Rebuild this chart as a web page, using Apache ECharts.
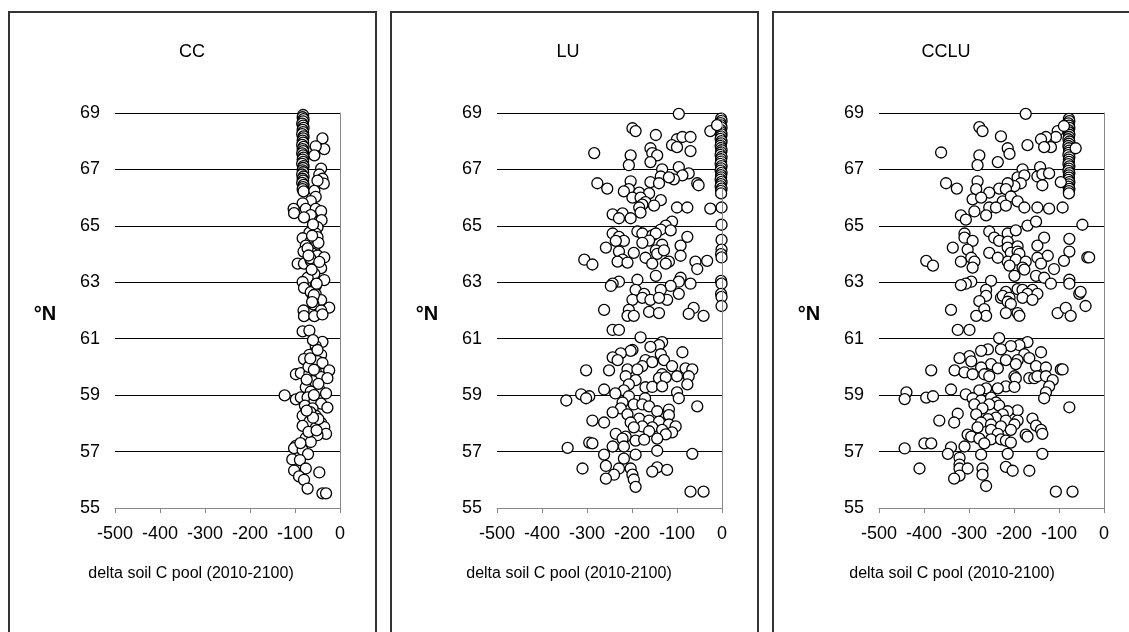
<!DOCTYPE html>
<html>
<head>
<meta charset="utf-8">
<script src="https://cdn.jsdelivr.net/npm/echarts@6/dist/echarts.min.js"></script>
<style>
  html, body { margin: 0; padding: 0; background: #fff; }
  #chart { width: 1129px; height: 632px; }
</style>
</head>
<body>
<div id="chart"></div>
<script>
// Panel titles and axis texts
const panelTitles = ['CC', 'LU', 'CCLU'];
const xAxisTitle = 'delta soil C pool (2010-2100)';
const yAxisTitle = '°N';
const xTicks = [-500, -400, -300, -200, -100, 0];
const yTicks = [55, 57, 59, 61, 63, 65, 67, 69];

// [delta soil C pool, latitude] — climate change only
const ccPoints = [
  [-82, 68.93], [-83, 68.85], [-81, 68.78], [-82, 68.70], [-84, 68.62], [-82, 68.55], [-81, 68.47],
  [-83, 68.40], [-82, 68.32], [-84, 68.25], [-81, 68.17], [-82, 68.10], [-83, 68.02], [-82, 67.95],
  [-84, 67.87], [-81, 67.80], [-83, 67.72], [-82, 67.65], [-84, 67.57], [-82, 67.50], [-81, 67.42],
  [-83, 67.35], [-82, 67.27], [-84, 67.20], [-81, 67.12], [-82, 67.05], [-83, 66.97], [-82, 66.90],
  [-84, 66.82], [-81, 66.75], [-83, 66.67], [-82, 66.60], [-84, 66.52], [-81, 66.45], [-82, 66.37],
  [-83, 66.30], [-81, 66.22],
  [-39, 68.10], [-35, 67.72], [-54, 67.82], [-57, 67.50], [-42, 67.03], [-46, 66.82], [-39, 66.67],
  [-36, 66.50], [-50, 66.60], [-57, 66.24], [-54, 66.03], [-65, 65.88], [-83, 65.80], [-103, 65.60],
  [-102, 65.45], [-76, 65.60], [-54, 65.60], [-42, 65.52], [-65, 65.38], [-80, 65.30], [-46, 65.17],
  [-41, 65.20], [-50, 64.95], [-54, 64.73], [-68, 64.76], [-83, 64.56], [-65, 64.45], [-50, 64.60],
  [-76, 64.30], [-57, 64.23], [-81, 64.09], [-61, 64.02], [-50, 63.95], [-35, 63.88], [-94, 63.66],
  [-80, 63.66], [-65, 63.76], [-54, 63.59], [-42, 63.50], [-57, 63.30], [-72, 63.16], [-83, 63.01],
  [-80, 62.80], [-54, 62.87], [-35, 63.08], [-65, 62.65], [-54, 62.58], [-57, 62.37], [-42, 62.37],
  [-59, 62.22], [-24, 62.10], [-42, 62.00], [-81, 62.00], [-80, 61.80], [-57, 61.80], [-39, 61.86],
  [-83, 61.26], [-68, 61.29], [-39, 60.89], [-54, 60.74], [-57, 60.50], [-68, 60.43], [-42, 60.43],
  [-80, 60.28], [-65, 60.14], [-50, 60.21], [-39, 60.14], [-24, 59.88], [-98, 59.74], [-87, 59.78],
  [-68, 59.78], [-54, 59.85], [-42, 59.64], [-28, 59.60], [-61, 59.50], [-76, 59.28], [-46, 59.20],
  [-65, 59.13], [-123, 58.99], [-98, 58.85], [-87, 58.92], [-72, 58.92], [-31, 59.06], [-57, 58.78],
  [-42, 58.70], [-28, 58.56], [-78, 58.63], [-61, 58.53], [-83, 58.27], [-54, 58.27], [-68, 58.06],
  [-42, 58.02], [-83, 57.91], [-54, 57.84], [-35, 57.87], [-31, 57.63], [-50, 57.58], [-76, 57.48],
  [-65, 57.34], [-98, 57.20], [-102, 57.12], [-83, 57.05], [-71, 56.91], [-106, 56.72], [-89, 56.70],
  [-102, 56.33], [-76, 56.40], [-46, 56.26], [-91, 56.12], [-80, 56.00], [-72, 55.69], [-39, 55.52],
  [-31, 55.52],
  [-60, 62.45], [-58, 62.55], [-62, 62.30], [-66, 63.85], [-72, 64.20], [-48, 64.40], [-60, 65.05],
  [-70, 60.00], [-58, 59.90], [-66, 58.40], [-48, 58.15], [-70, 57.70], [-58, 59.00], [-50, 60.60],
  [-62, 64.65], [-70, 63.95], [-46, 63.72], [-63, 63.45], [-52, 62.95], [-66, 60.30], [-48, 59.40],
  [-74, 59.55], [-60, 58.20], [-74, 58.45], [-52, 57.75], [-88, 57.30], [-60, 60.95]
];

// [delta soil C pool, latitude] — land use only
const luPoints = [
  [-2, 68.80], [-1, 68.72], [-3, 68.64], [-2, 68.56], [-1, 68.48], [-3, 68.40], [-2, 68.32],
  [-1, 68.24], [-2, 68.16], [-3, 68.08], [-1, 68.00], [-2, 67.92], [-3, 67.84], [-2, 67.76],
  [-1, 67.68], [-2, 67.60], [-3, 67.52], [-1, 67.44], [-2, 67.36], [-2, 67.28], [-3, 67.20],
  [-1, 67.12], [-2, 67.04], [-3, 66.96], [-1, 66.88], [-2, 66.80], [-2, 66.72], [-3, 66.64],
  [-1, 66.56], [-2, 66.48], [-3, 66.40], [-1, 66.32], [-2, 66.24], [-2, 66.15],
  [-1, 65.65], [-1, 65.04], [-1, 64.50], [-1, 64.16], [-2, 64.00], [-1, 63.88], [-2, 63.05],
  [-1, 62.95], [-2, 62.59], [-1, 62.48], [-1, 62.16],
  [-96, 68.97], [-199, 68.46], [-192, 68.36], [-147, 68.22], [-26, 68.36], [-11, 68.57],
  [-100, 68.07], [-88, 68.15], [-70, 68.15], [-111, 67.86], [-100, 67.79], [-70, 67.65],
  [-159, 67.75], [-155, 67.58], [-144, 67.50], [-284, 67.58], [-203, 67.50], [-207, 67.15],
  [-159, 67.26], [-96, 67.08], [-133, 67.00], [-74, 66.86], [-88, 66.79], [-136, 66.75],
  [-107, 66.65], [-118, 66.72], [-277, 66.51], [-255, 66.32], [-203, 66.58], [-159, 66.55],
  [-140, 66.51], [-55, 66.51], [-52, 66.44], [-207, 66.30], [-218, 66.22], [-184, 66.18],
  [-162, 66.15], [-199, 66.00], [-181, 66.00], [-136, 65.91], [-170, 65.84], [-177, 65.75],
  [-184, 65.65], [-151, 65.72], [-100, 65.65], [-77, 65.65], [-26, 65.61], [-181, 65.47],
  [-243, 65.41], [-221, 65.44], [-229, 65.27], [-203, 65.27], [-111, 65.15], [-125, 65.01],
  [-136, 64.87], [-114, 64.84], [-188, 64.80], [-177, 64.73], [-155, 64.66], [-147, 64.73],
  [-243, 64.73], [-229, 64.61], [-77, 64.61], [-218, 64.47], [-236, 64.47], [-162, 64.48],
  [-177, 64.40], [-133, 64.33], [-92, 64.30], [-258, 64.23], [-229, 64.09], [-196, 64.04],
  [-147, 64.13], [-144, 64.01], [-129, 64.13], [-92, 63.94], [-170, 63.87], [-221, 63.80],
  [-232, 63.73], [-210, 63.70], [-118, 63.73], [-125, 63.66], [-155, 63.66], [-306, 63.80],
  [-288, 63.63], [-59, 63.73], [-33, 63.76], [-55, 63.47], [-147, 63.23], [-188, 63.09],
  [-92, 63.16], [-96, 63.02], [-229, 63.02], [-243, 62.95], [-247, 62.87], [-70, 62.95],
  [-114, 62.87], [-136, 62.73], [-192, 62.73], [-173, 62.59], [-199, 62.38], [-177, 62.45],
  [-159, 62.38], [-122, 62.38], [-96, 62.59], [-140, 62.45], [-262, 62.02], [-207, 62.02],
  [-162, 61.95], [-140, 61.91], [-63, 62.09], [-74, 61.88], [-41, 61.81], [-210, 61.81],
  [-196, 61.81], [-243, 61.31], [-229, 61.31], [-181, 61.05], [-133, 60.88], [-140, 60.77],
  [-159, 60.71], [-199, 60.60], [-203, 60.57], [-88, 60.52], [-225, 60.48], [-136, 60.45],
  [-129, 60.24], [-243, 60.34], [-232, 60.24], [-170, 60.24], [-155, 60.17], [-111, 60.03],
  [-177, 60.03], [-210, 59.91], [-188, 59.91], [-251, 59.88], [-302, 59.88], [-81, 59.95],
  [-66, 59.91], [-74, 59.67], [-133, 59.74], [-140, 59.60], [-125, 59.63], [-100, 59.67],
  [-214, 59.67], [-192, 59.53], [-77, 59.38], [-207, 59.38], [-170, 59.28], [-155, 59.29],
  [-133, 59.31], [-262, 59.20], [-218, 59.17], [-100, 59.10], [-313, 59.03], [-295, 58.96],
  [-237, 59.06], [-207, 58.96], [-302, 58.89], [-346, 58.81], [-171, 58.89], [-96, 58.89],
  [-221, 58.74], [-196, 58.67], [-177, 58.67], [-162, 58.60], [-55, 58.60], [-225, 58.53],
  [-118, 58.49], [-144, 58.43], [-243, 58.39], [-210, 58.32], [-118, 58.29], [-184, 58.17],
  [-162, 58.10], [-140, 58.06], [-288, 58.10], [-262, 58.03], [-203, 58.03], [-118, 57.96],
  [-155, 57.86], [-177, 57.89], [-196, 57.86], [-103, 57.89], [-133, 57.77], [-162, 57.72],
  [-236, 57.63], [-111, 57.68], [-125, 57.61], [-214, 57.53], [-221, 57.46], [-144, 57.46],
  [-192, 57.39], [-173, 57.42], [-295, 57.32], [-288, 57.29], [-243, 57.18], [-343, 57.13],
  [-218, 57.18], [-144, 57.03], [-262, 56.89], [-192, 56.89], [-66, 56.92], [-218, 56.75],
  [-258, 56.49], [-310, 56.40], [-229, 56.40], [-203, 56.40], [-144, 56.44], [-122, 56.35],
  [-155, 56.29], [-240, 56.18], [-199, 56.18], [-258, 56.04], [-196, 56.01], [-192, 55.75],
  [-70, 55.58], [-41, 55.58]
];

// [delta soil C pool, latitude] — climate change and land use combined
const ccluPoints = [
  [-78, 68.79], [-77, 68.71], [-79, 68.63], [-78, 68.55], [-77, 68.47], [-79, 68.39], [-78, 68.31],
  [-77, 68.23], [-78, 68.15], [-79, 68.07], [-77, 67.99], [-78, 67.91], [-79, 67.83], [-78, 67.75],
  [-77, 67.67], [-78, 67.59], [-79, 67.51], [-77, 67.43], [-78, 67.35], [-78, 67.27], [-79, 67.19],
  [-77, 67.11], [-78, 67.03], [-79, 66.95], [-77, 66.87], [-78, 66.79], [-78, 66.71], [-79, 66.63],
  [-77, 66.55], [-78, 66.47], [-79, 66.39], [-77, 66.31], [-78, 66.23], [-78, 66.15],
  [-174, 68.97], [-277, 68.50], [-270, 68.36], [-229, 68.17], [-103, 68.36], [-107, 68.15],
  [-89, 68.54], [-129, 68.15], [-140, 68.07], [-118, 67.79], [-133, 67.79], [-170, 67.86],
  [-214, 67.75], [-210, 67.55], [-63, 67.75], [-362, 67.60], [-277, 67.50], [-281, 67.15],
  [-236, 67.26], [-142, 67.08], [-181, 67.00], [-192, 66.72], [-177, 66.79], [-148, 66.75],
  [-137, 66.83], [-122, 66.86], [-137, 66.44], [-281, 66.58], [-351, 66.51], [-327, 66.32],
  [-185, 66.51], [-199, 66.41], [-214, 66.51], [-233, 66.32], [-218, 66.30], [-255, 66.18],
  [-96, 66.55], [-284, 66.30], [-292, 65.94], [-273, 66.00], [-225, 65.87], [-207, 66.04],
  [-192, 65.87], [-255, 65.65], [-240, 65.65], [-218, 65.72], [-177, 65.65], [-148, 65.65],
  [-122, 65.61], [-92, 65.65], [-288, 65.51], [-262, 65.37], [-318, 65.37], [-307, 65.22],
  [-170, 65.01], [-151, 65.15], [-48, 65.04], [-255, 64.80], [-214, 64.73], [-196, 64.84],
  [-310, 64.73], [-310, 64.58], [-292, 64.47], [-244, 64.58], [-233, 64.47], [-214, 64.44],
  [-133, 64.58], [-77, 64.54], [-336, 64.23], [-255, 64.04], [-214, 64.23], [-192, 64.27],
  [-148, 64.30], [-303, 64.16], [-207, 64.04], [-192, 64.09], [-188, 64.01], [-125, 63.94],
  [-77, 64.09], [-37, 63.88], [-33, 63.88], [-295, 63.87], [-395, 63.76], [-380, 63.59],
  [-318, 63.73], [-288, 63.73], [-292, 63.52], [-214, 63.73], [-236, 63.87], [-196, 63.80],
  [-210, 63.59], [-174, 63.73], [-181, 63.52], [-148, 63.87], [-140, 63.66], [-89, 63.76],
  [-111, 63.47], [-177, 63.45], [-199, 63.23], [-151, 63.23], [-133, 63.16], [-251, 63.05],
  [-77, 63.09], [-295, 63.02], [-307, 62.95], [-318, 62.90], [-118, 62.95], [-77, 62.95],
  [-262, 62.73], [-218, 62.66], [-192, 62.76], [-181, 62.73], [-159, 62.73], [-170, 62.59],
  [-148, 62.59], [-262, 62.52], [-229, 62.45], [-225, 62.52], [-210, 62.45], [-181, 62.45],
  [-159, 62.38], [-55, 62.59], [-52, 62.66], [-214, 62.31], [-207, 62.23], [-277, 62.33],
  [-266, 62.05], [-262, 61.81], [-340, 62.02], [-284, 61.81], [-218, 61.91], [-192, 61.91],
  [-188, 61.81], [-103, 61.91], [-85, 62.09], [-74, 61.81], [-41, 62.16], [-325, 61.31],
  [-299, 61.31], [-233, 61.02], [-170, 60.88], [-188, 60.77], [-207, 60.74], [-229, 60.62],
  [-258, 60.62], [-273, 60.57], [-140, 60.52], [-177, 60.45], [-299, 60.38], [-321, 60.31],
  [-295, 60.20], [-218, 60.24], [-192, 60.24], [-166, 60.31], [-196, 60.10], [-251, 60.10],
  [-236, 59.95], [-273, 59.98], [-151, 60.03], [-129, 59.98], [-96, 59.91], [-92, 59.91],
  [-384, 59.88], [-332, 59.88], [-310, 59.81], [-292, 59.74], [-266, 59.74], [-255, 59.67],
  [-199, 59.67], [-196, 59.60], [-166, 59.60], [-155, 59.60], [-148, 59.67], [-129, 59.67],
  [-114, 59.53], [-122, 59.31], [-129, 59.10], [-133, 58.89], [-218, 59.31], [-199, 59.29],
  [-236, 59.24], [-262, 59.24], [-277, 59.17], [-340, 59.20], [-439, 59.10], [-443, 58.86],
  [-395, 58.91], [-380, 58.96], [-307, 59.03], [-292, 58.89], [-273, 58.81], [-251, 58.91],
  [-240, 58.74], [-233, 58.63], [-288, 58.67], [-255, 58.67], [-77, 58.57], [-270, 58.53],
  [-192, 58.46], [-214, 58.43], [-325, 58.34], [-284, 58.32], [-225, 58.32], [-240, 58.20],
  [-159, 58.17], [-258, 58.15], [-218, 58.10], [-366, 58.10], [-333, 58.03], [-192, 58.10],
  [-273, 58.03], [-251, 57.96], [-199, 57.96], [-229, 57.89], [-151, 57.92], [-281, 57.86],
  [-251, 57.77], [-207, 57.77], [-140, 57.77], [-236, 57.63], [-137, 57.63], [-303, 57.60],
  [-295, 57.53], [-174, 57.60], [-170, 57.53], [-277, 57.46], [-251, 57.43], [-229, 57.43],
  [-218, 57.39], [-207, 57.32], [-266, 57.29], [-399, 57.29], [-384, 57.29], [-310, 57.18],
  [-340, 57.15], [-443, 57.11], [-347, 56.92], [-321, 56.78], [-273, 56.89], [-214, 56.92],
  [-137, 56.92], [-321, 56.54], [-321, 56.40], [-303, 56.40], [-410, 56.40], [-270, 56.40],
  [-218, 56.46], [-203, 56.32], [-166, 56.32], [-270, 56.18], [-321, 56.15], [-333, 56.04],
  [-262, 55.78], [-107, 55.58], [-70, 55.58]
];

const panelData = [ccPoints, luPoints, ccluPoints];

// Layout of the three framed panels
const panelLeft = [9, 391, 773];
const panelWidth = 367;
const plotOffset = 106;      // frame edge to plot area
const plotWidth = 225;
const plotTop = 113;
const plotHeight = 395;
const titleCenter = [192, 568, 946];
const xNameCenter = [191, 569, 952];

const FONT = '"Liberation Sans", Arial, sans-serif';

const grids = [], xAxes = [], yAxes = [], series = [], graphics = [];

panelData.forEach((pts, i) => {
  const left = panelLeft[i] + plotOffset;
  grids.push({ left: left, top: plotTop, width: plotWidth, height: plotHeight, containLabel: false });

  xAxes.push({
    gridIndex: i, type: 'value', min: xTicks[0], max: xTicks[xTicks.length - 1], interval: 100,
    position: 'bottom', z: 5,
    axisLine: { show: true, onZero: false, lineStyle: { color: '#888', width: 1 } },
    axisTick: { show: true, inside: false, length: 5, lineStyle: { color: '#888' } },
    axisLabel: { margin: 17, color: '#000', fontSize: 18, fontFamily: FONT },
    splitLine: { show: false }
  });

  // Latitude labels with horizontal gridlines
  yAxes.push({
    gridIndex: i, type: 'value', min: yTicks[0], max: yTicks[yTicks.length - 1], interval: 2,
    position: 'left',
    axisLine: { show: false }, axisTick: { show: false },
    axisLabel: { margin: 15, color: '#000', fontSize: 18, fontFamily: FONT },
    splitLine: { show: true, lineStyle: { color: '#000', width: 1 } }
  });
  // Vertical axis line crossing at zero (right edge)
  yAxes.push({
    gridIndex: i, type: 'value', min: yTicks[0], max: yTicks[yTicks.length - 1], interval: 2,
    position: 'right', z: 5,
    axisLine: { show: true, onZero: false, lineStyle: { color: '#888', width: 1 } },
    axisTick: { show: false }, axisLabel: { show: false }, splitLine: { show: false }
  });

  series.push({
    type: 'scatter', xAxisIndex: i, yAxisIndex: i * 2,
    data: pts, symbol: 'circle', symbolSize: 11,
    itemStyle: { color: '#fff', borderColor: '#000', borderWidth: 1.3, opacity: 1 },
    emphasis: { disabled: true }, animation: false
  });

  const pl = panelLeft[i];
  graphics.push({
    type: 'rect', shape: { x: pl, y: 12, width: panelWidth, height: 640 },
    style: { fill: null, stroke: '#333', lineWidth: 2 }, silent: true
  });
  graphics.push({
    type: 'text', x: titleCenter[i], y: 52,
    style: { text: panelTitles[i], font: '18px ' + FONT, fill: '#000', textAlign: 'center', textVerticalAlign: 'middle' }
  });
  graphics.push({
    type: 'text', x: pl + 36, y: 314,
    style: { text: yAxisTitle, font: 'bold 20px ' + FONT, fill: '#000', textAlign: 'center', textVerticalAlign: 'middle' }
  });
  graphics.push({
    type: 'text', x: xNameCenter[i], y: 574,
    style: { text: xAxisTitle, font: '16px ' + FONT, fill: '#000', textAlign: 'center', textVerticalAlign: 'middle' }
  });
});

const chart = echarts.init(document.getElementById('chart'), null, { renderer: 'canvas' });
chart.setOption({
  backgroundColor: '#fff',
  animation: false,
  grid: grids,
  xAxis: xAxes,
  yAxis: yAxes,
  series: series,
  graphic: graphics
});
</script>
</body>
</html>
